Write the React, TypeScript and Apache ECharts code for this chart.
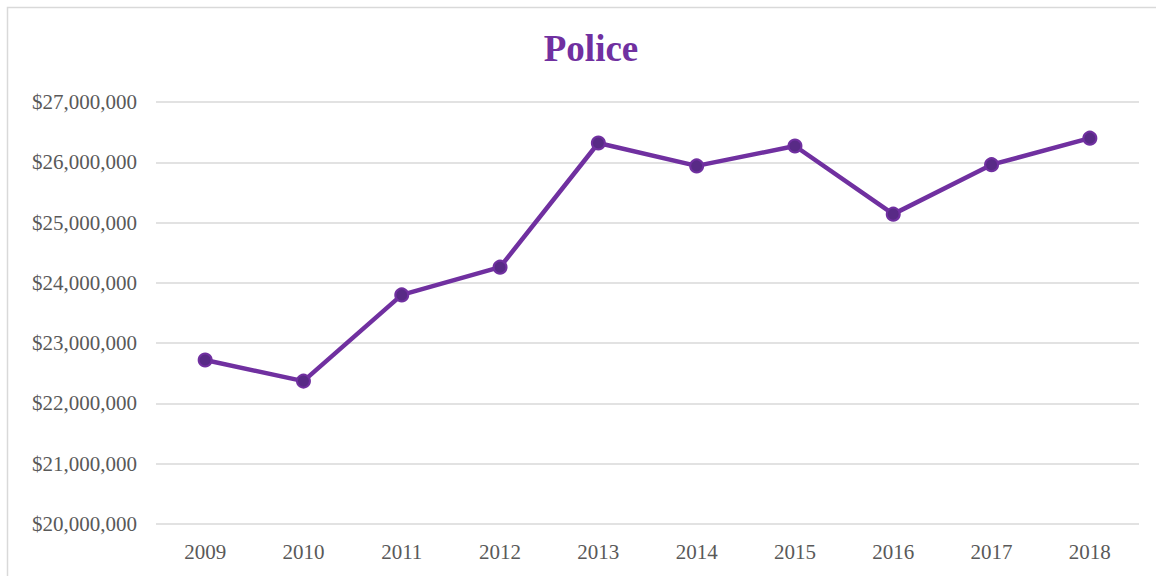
import React, { useEffect, useRef } from "react";
import * as echarts from "echarts";

const years = ["2009", "2010", "2011", "2012", "2013", "2014", "2015", "2016", "2017", "2018"];
const spending = [22720000, 22370000, 23800000, 24260000, 26320000, 25940000, 26270000, 25140000, 25960000, 26400000];
const titleText = "Police";

export default function App() {
  const ref = useRef<HTMLDivElement>(null);
  useEffect(() => {
    if (!ref.current) return;
    const chart = echarts.init(ref.current, null, { renderer: "svg" });
    const font = "'Liberation Serif', 'DejaVu Serif', serif";
    chart.setOption({
      animation: false,
      backgroundColor: "#ffffff",
      title: {
        text: titleText,
        left: 586,
        textAlign: "center",
        top: 25,
        textStyle: { fontFamily: font, fontSize: 37, fontWeight: "bold", color: "#7030a0" },
      },
      graphic: [
        {
          type: "rect",
          shape: { x: 7.5, y: 7.5, width: 1300, height: 700 },
          style: { fill: "none", stroke: "#d9d9d9", lineWidth: 1.5 },
          silent: true,
        },
      ],
      grid: { left: 156, right: 17, top: 102, bottom: 52, containLabel: false },
      xAxis: {
        type: "category",
        data: years,
        boundaryGap: true,
        axisLine: { show: false },
        axisTick: { show: false },
        axisLabel: { fontFamily: font, fontSize: 21, color: "#595959", margin: 17 },
      },
      yAxis: {
        type: "value",
        min: 20000000,
        max: 27000000,
        interval: 1000000,
        axisLine: { show: false },
        axisTick: { show: false },
        splitLine: { lineStyle: { color: "#d9d9d9", width: 1.5 } },
        axisLabel: {
          fontFamily: font,
          fontSize: 21,
          color: "#595959",
          margin: 19,
          formatter: (v: number) => "$" + v.toLocaleString("en-US"),
        },
      },
      series: [
        {
          type: "line",
          data: spending,
          symbol: "circle",
          symbolSize: 13,
          lineStyle: { color: "#7030a0", width: 4.5 },
          itemStyle: { color: "#582a86", borderColor: "#7030a0", borderWidth: 2 },
        },
      ],
    });
    return () => chart.dispose();
  }, []);
  return (
    <div style={{ position: "absolute", left: 0, top: 0, width: 1156, height: 576 }}>
      <div ref={ref} style={{ width: 1156, height: 576 }} />
    </div>
  );
}
